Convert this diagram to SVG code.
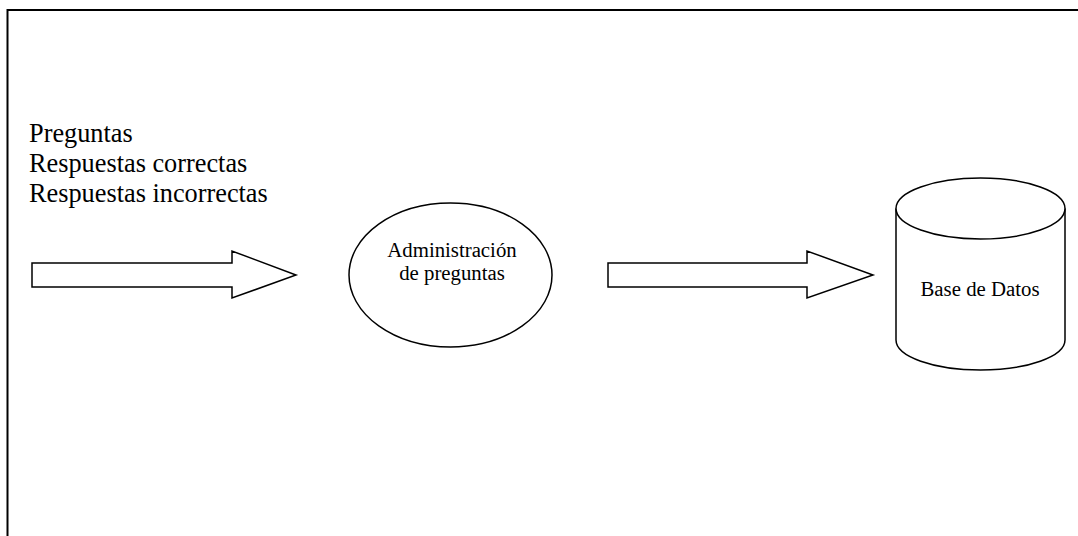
<svg xmlns="http://www.w3.org/2000/svg" width="1078" height="536" viewBox="0 0 1078 536">
<style>
.s{fill:#fff;stroke:#000;stroke-width:1.5}
.t{font-family:"Liberation Serif","Times New Roman",serif;fill:#000}
.big{font-size:26.3px}
.sm{font-size:20.8px}
</style>
<rect width="1078" height="536" fill="#fff"/>
<g id="frame">
<path d="M7.5,536 V10 H1078" fill="none" stroke="#000" stroke-width="2"/>
</g>
<g id="inputs">
<text class="t big" x="29" y="142">Preguntas</text>
<text class="t big" x="29" y="172">Respuestas correctas</text>
<text class="t big" x="29" y="202">Respuestas incorrectas</text>
</g>
<g id="connectors">
<path class="s" d="M32,263 H232 V251 L296,275 L232,298 V287 H32 Z"/>
<path class="s" d="M608,263 H807 V251 L873,275 L807,298 V287 H608 Z"/>
</g>
<g id="admin">
<ellipse class="s" cx="450.5" cy="275" rx="101.5" ry="72"/>
<text class="t sm" x="452" y="257" text-anchor="middle">Administración</text>
<text class="t sm" x="452" y="280" text-anchor="middle">de preguntas</text>
</g>
<g id="db">
<path class="s" d="M896,208.5 V340 A84.5,30 0 0 0 1065,340 V208.5"/>
<ellipse class="s" cx="980.5" cy="208.5" rx="84.5" ry="30.5"/>
<text class="t sm" x="980" y="296" text-anchor="middle">Base de Datos</text>
</g>
</svg>
